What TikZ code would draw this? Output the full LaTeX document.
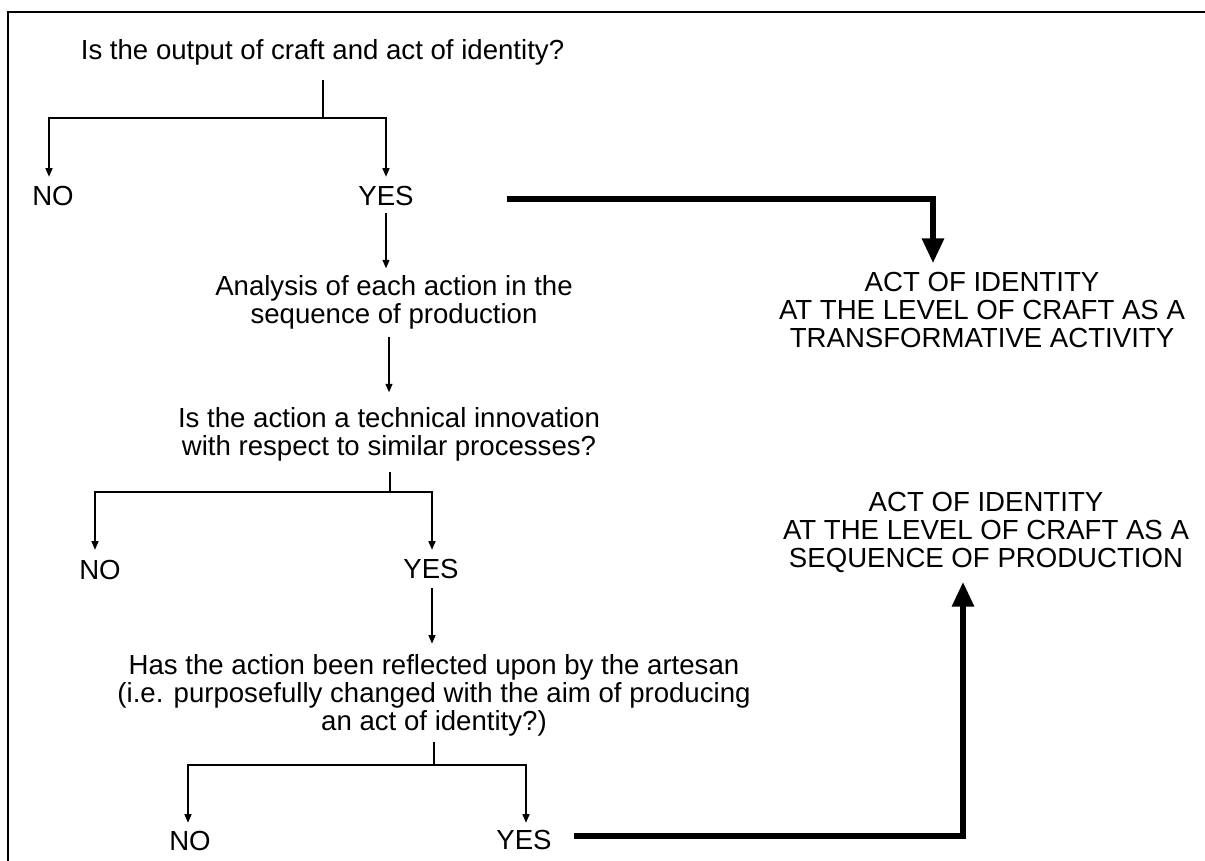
\documentclass[tikz,border=0pt]{standalone}
\usepackage{fontspec}
\setmainfont{Liberation Sans}
\usetikzlibrary{arrows.meta}
\begin{document}
\begin{tikzpicture}[x=1pt,y=-1pt,
  txt/.style={font=\fontsize{27.6}{27.7}\selectfont, inner sep=0pt, outer sep=0pt, anchor=base, align=center},
  ln/.style={line width=1.3pt},
  arr/.style={ln, -{Triangle[width=7pt,length=8.5pt]}},
  bigarr/.style={line width=6pt, -{Triangle[width=21pt,length=25pt]}},
  framestyle/.style={line width=1.6pt}]
\useasboundingbox (0,0) rectangle (1205,861);
\fill[white] (0,0) rectangle (1205,861);
\draw[framestyle] (8,861) -- (8,12) -- (1205,12);

% texts (multi-line nodes: base = baseline of last line)
\node[txt] (q1) at (322.5,60) {Is the output of craft and act of identity?};
\node[txt] (no1) at (53,206) {NO};
\node[txt] (yes1) at (386,206) {YES};
\node[txt] (ana) at (394,323) {Analysis of each action in the\\sequence of production};
\node[txt] (q2) at (389,455) {Is the action a technical innovation\\with respect to similar processes?};
\node[txt] (no2) at (100,579) {NO};
\node[txt] (yes2) at (431,578) {YES};
\node[txt] (q3) at (434,730) {Has the action been reflected upon by the artesan\\(i.e. purposefully changed with the aim of producing\\an act of identity?)};
\node[txt] (no3) at (190,850) {NO};
\node[txt] (yes3) at (524,849) {YES};
\node[txt] (r1) at (982,347) {ACT OF IDENTITY\\AT THE LEVEL OF CRAFT AS A\\TRANSFORMATIVE ACTIVITY};
\node[txt] (r2) at (986,567) {ACT OF IDENTITY\\AT THE LEVEL OF CRAFT AS A\\SEQUENCE OF PRODUCTION};

% branch points
\coordinate (b1) at (323,118);
\coordinate (b2) at (390,492);
\coordinate (b3) at (434,765);

% first question
\draw[ln] ([yshift=-14pt]b1 |- q1.south) -- (b1);
\draw[arr] (b1) -| ([xshift=-4pt,yshift=10pt]no1.north);
\draw[arr] (b1) -| ([yshift=10pt]yes1.north);
\draw[arr] ([yshift=-7pt]yes1.south) -- ([yshift=7pt]yes1.south |- ana.north);
\draw[arr] ([yshift=-8pt]ana.south -| q2.north) -- ([yshift=15pt]q2.north);

% second question
\draw[ln] ([yshift=-11pt]b2 |- q2.south) -- (b2);
\draw[arr] (b2) -| ([xshift=-5pt,yshift=10pt]no2.north);
\draw[arr] (b2) -| ([xshift=1pt,yshift=9pt]yes2.north);
\draw[arr] ([xshift=1pt,yshift=-10pt]yes2.south) -- ([xshift=1pt,yshift=11pt]yes2.south |- q3.north);

% third question
\draw[ln] ([yshift=-6pt]b3 |- q3.south) -- (b3);
\draw[arr] (b3) -| ([xshift=-2pt,yshift=8pt]no3.north);
\draw[arr] (b3) -| ([xshift=2pt,yshift=7pt]yes3.north);

% thick arrows
\draw[bigarr] ([xshift=93pt,yshift=-3pt]yes1.east) -| ([xshift=-49pt,yshift=9pt]r1.north);
\draw[bigarr] ([xshift=22pt,yshift=4pt]yes3.east) -| ([xshift=-23pt,yshift=-9.5pt]r2.south);
\end{tikzpicture}
\end{document}
